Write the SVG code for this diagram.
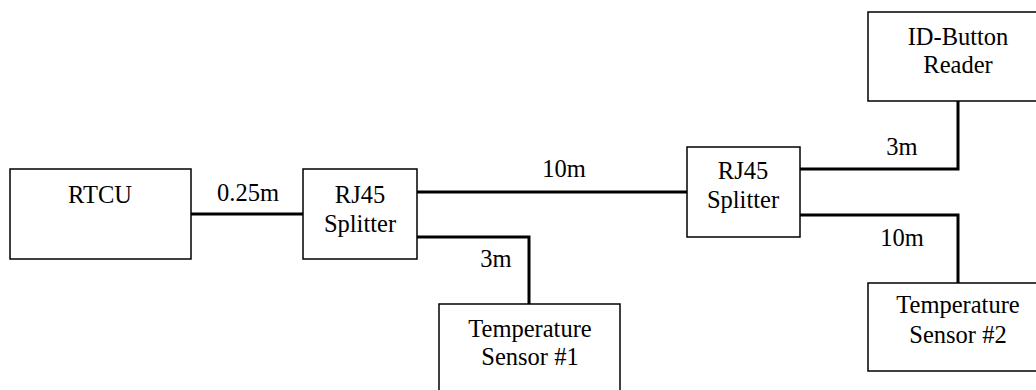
<svg xmlns="http://www.w3.org/2000/svg" width="1036" height="390" viewBox="0 0 1036 390">
<style>
.box{fill:#fff;stroke:#000;stroke-width:1.5}
.wire{fill:none;stroke:#000;stroke-width:3;stroke-linejoin:miter;stroke-linecap:square}
text{font-family:"Liberation Serif","Times New Roman",serif;font-size:24.5px;fill:#000;text-anchor:middle}
</style>
<rect width="1036" height="390" fill="#fff"/>
<g id="connectors">
<path class="wire" d="M191,214 H303"/>
<path class="wire" d="M417,192 H687"/>
<path class="wire" d="M417,237 H529 V304"/>
<path class="wire" d="M800,169 H958 V101"/>
<path class="wire" d="M800,215 H958 V283"/>
<text x="248" y="201">0.25m</text>
<text x="564" y="177">10m</text>
<text x="496" y="267">3m</text>
<text x="902" y="155">3m</text>
<text x="902" y="246">10m</text>
</g>
<g id="rtcu">
<rect class="box" x="10" y="169" width="181" height="90"/>
<text x="100" y="203">RTCU</text>
</g>
<g id="splitter1">
<rect class="box" x="303" y="169" width="114" height="90"/>
<text x="360" y="203">RJ45</text>
<text x="360" y="232">Splitter</text>
</g>
<g id="splitter2">
<rect class="box" x="687" y="147" width="113" height="90"/>
<text x="743" y="179">RJ45</text>
<text x="743" y="208">Splitter</text>
</g>
<g id="idbutton">
<rect class="box" x="868" y="12" width="180" height="89"/>
<text x="958" y="45">ID-Button</text>
<text x="958" y="73">Reader</text>
</g>
<g id="temp1">
<rect class="box" x="439" y="304" width="181" height="90"/>
<text x="530" y="337">Temperature</text>
<text x="530" y="365">Sensor #1</text>
</g>
<g id="temp2">
<rect class="box" x="868" y="283" width="180" height="88"/>
<text x="958" y="313">Temperature</text>
<text x="958" y="343">Sensor #2</text>
</g>
</svg>
